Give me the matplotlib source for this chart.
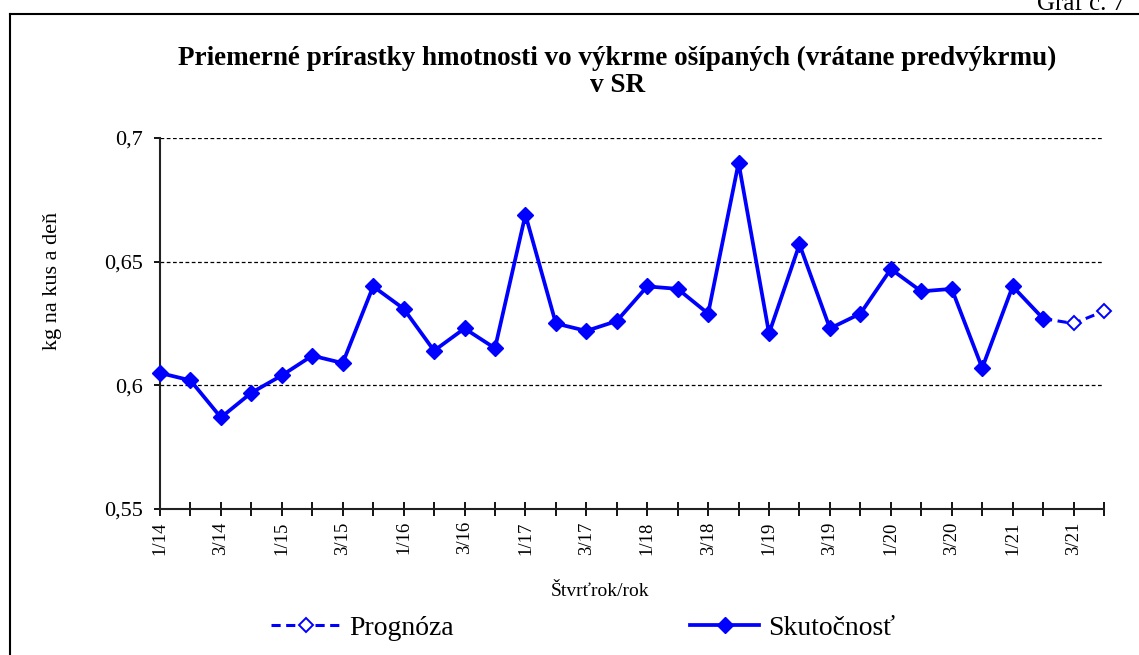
import matplotlib
matplotlib.use('Agg')
import matplotlib.pyplot as plt
from matplotlib.lines import Line2D
from matplotlib.ticker import FuncFormatter, FixedLocator

# quarters 1/14 .. 4/21
quarters = ['%d/%d' % (q, y) for y in range(14, 22) for q in range(1, 5)]

# actual values (Skutočnosť), 1/14 .. 2/21
actual = [0.605, 0.602, 0.587, 0.597, 0.604, 0.612, 0.609, 0.640,
          0.631, 0.614, 0.623, 0.615, 0.669, 0.625, 0.622, 0.626,
          0.640, 0.639, 0.629, 0.690, 0.621, 0.657, 0.623, 0.629,
          0.647, 0.638, 0.639, 0.607, 0.640, 0.627]

# forecast (Prognóza), 2/21 .. 4/21
forecast = [0.627, 0.625, 0.630]

y_ticks = [0.55, 0.6, 0.65, 0.7]

plt.rcParams['font.family'] = ['Liberation Serif', 'DejaVu Serif']

W, H = 1139, 655
fig = plt.figure(figsize=(W / 100, H / 100), dpi=100)
ax = fig.add_axes([160 / W, 1 - 509 / H, (1104 - 160) / W, (509 - 138) / H])

x_act = list(range(len(actual)))
x_fc = list(range(len(actual) - 1, len(actual) - 1 + len(forecast)))

blue = '#0000ff'
line_fc, = ax.plot(x_fc, forecast, color=blue, lw=2.2, ls=(0, (3, 1.8)),
                   marker='D', ms=7, mfc='white', mec=blue, mew=1.4,
                   label='Prognóza', zorder=3, clip_on=False)
line_act, = ax.plot(x_act, actual, color=blue, lw=2.7, marker='D', ms=7.8,
                    mfc=blue, mec=blue, mew=1, label='Skutočnosť', zorder=4,
                    clip_on=False)

ax.set_xlim(0, len(quarters) - 1)
ax.set_ylim(0.55, 0.7)
ax.yaxis.set_major_locator(FixedLocator(y_ticks))
ax.yaxis.set_major_formatter(FuncFormatter(lambda v, p: ('%g' % round(v, 3)).replace('.', ',')))

ax.set_xticks(range(len(quarters)))
ax.set_xticklabels([q if q[0] in '13' else '' for q in quarters], rotation=90, fontsize=13.5)
ax.tick_params(axis='x', direction='inout', length=9.5, width=1.3, pad=4)
ax.tick_params(axis='y', direction='out', length=4.5, width=1.3, pad=8, labelsize=16)

for v in y_ticks[1:]:
    ax.axhline(v, color='black', ls=(0, (3, 2)), lw=0.9, zorder=1)

for s in ['top', 'right']:
    ax.spines[s].set_visible(False)
for s in ['left', 'bottom']:
    ax.spines[s].set_linewidth(1.5)
    ax.spines[s].set_color('#222222')

fig.text(52 / W, 1 - 281 / H, 'kg na kus a deň', rotation=90, ha='center', va='center', fontsize=16)
fig.text(600 / W, 1 - 592 / H, 'Štvrťrok/rok', ha='center', va='center', fontsize=14)

fig.text(0.542, 1 - 72 / H, 'Priemerné prírastky hmotnosti vo výkrme ošípaných (vrátane predvýkrmu)\nv SR',
         ha='center', va='center', fontsize=19.5, fontweight='bold', linespacing=1.15)

fig.text(1125 / W, 1 - 9.5 / H, 'Graf č. 7', ha='right', va='baseline', fontsize=18)

# outer frame (top and left edges visible)
fig.add_artist(Line2D([10 / W, 1.0], [1 - 14 / H, 1 - 14 / H], color='black', lw=1.5))
fig.add_artist(Line2D([10 / W, 10 / W], [0.0, 1 - 14 / H], color='black', lw=1.5))

fig.legend(handles=[line_fc, line_act], loc='center', bbox_to_anchor=(583 / W, 1 - 628 / H),
           ncol=2, frameon=False, fontsize=20, handlelength=2.5, columnspacing=8.5,
           handletextpad=0.3, borderpad=0, borderaxespad=0)

fig.savefig('out.png', dpi=100)
